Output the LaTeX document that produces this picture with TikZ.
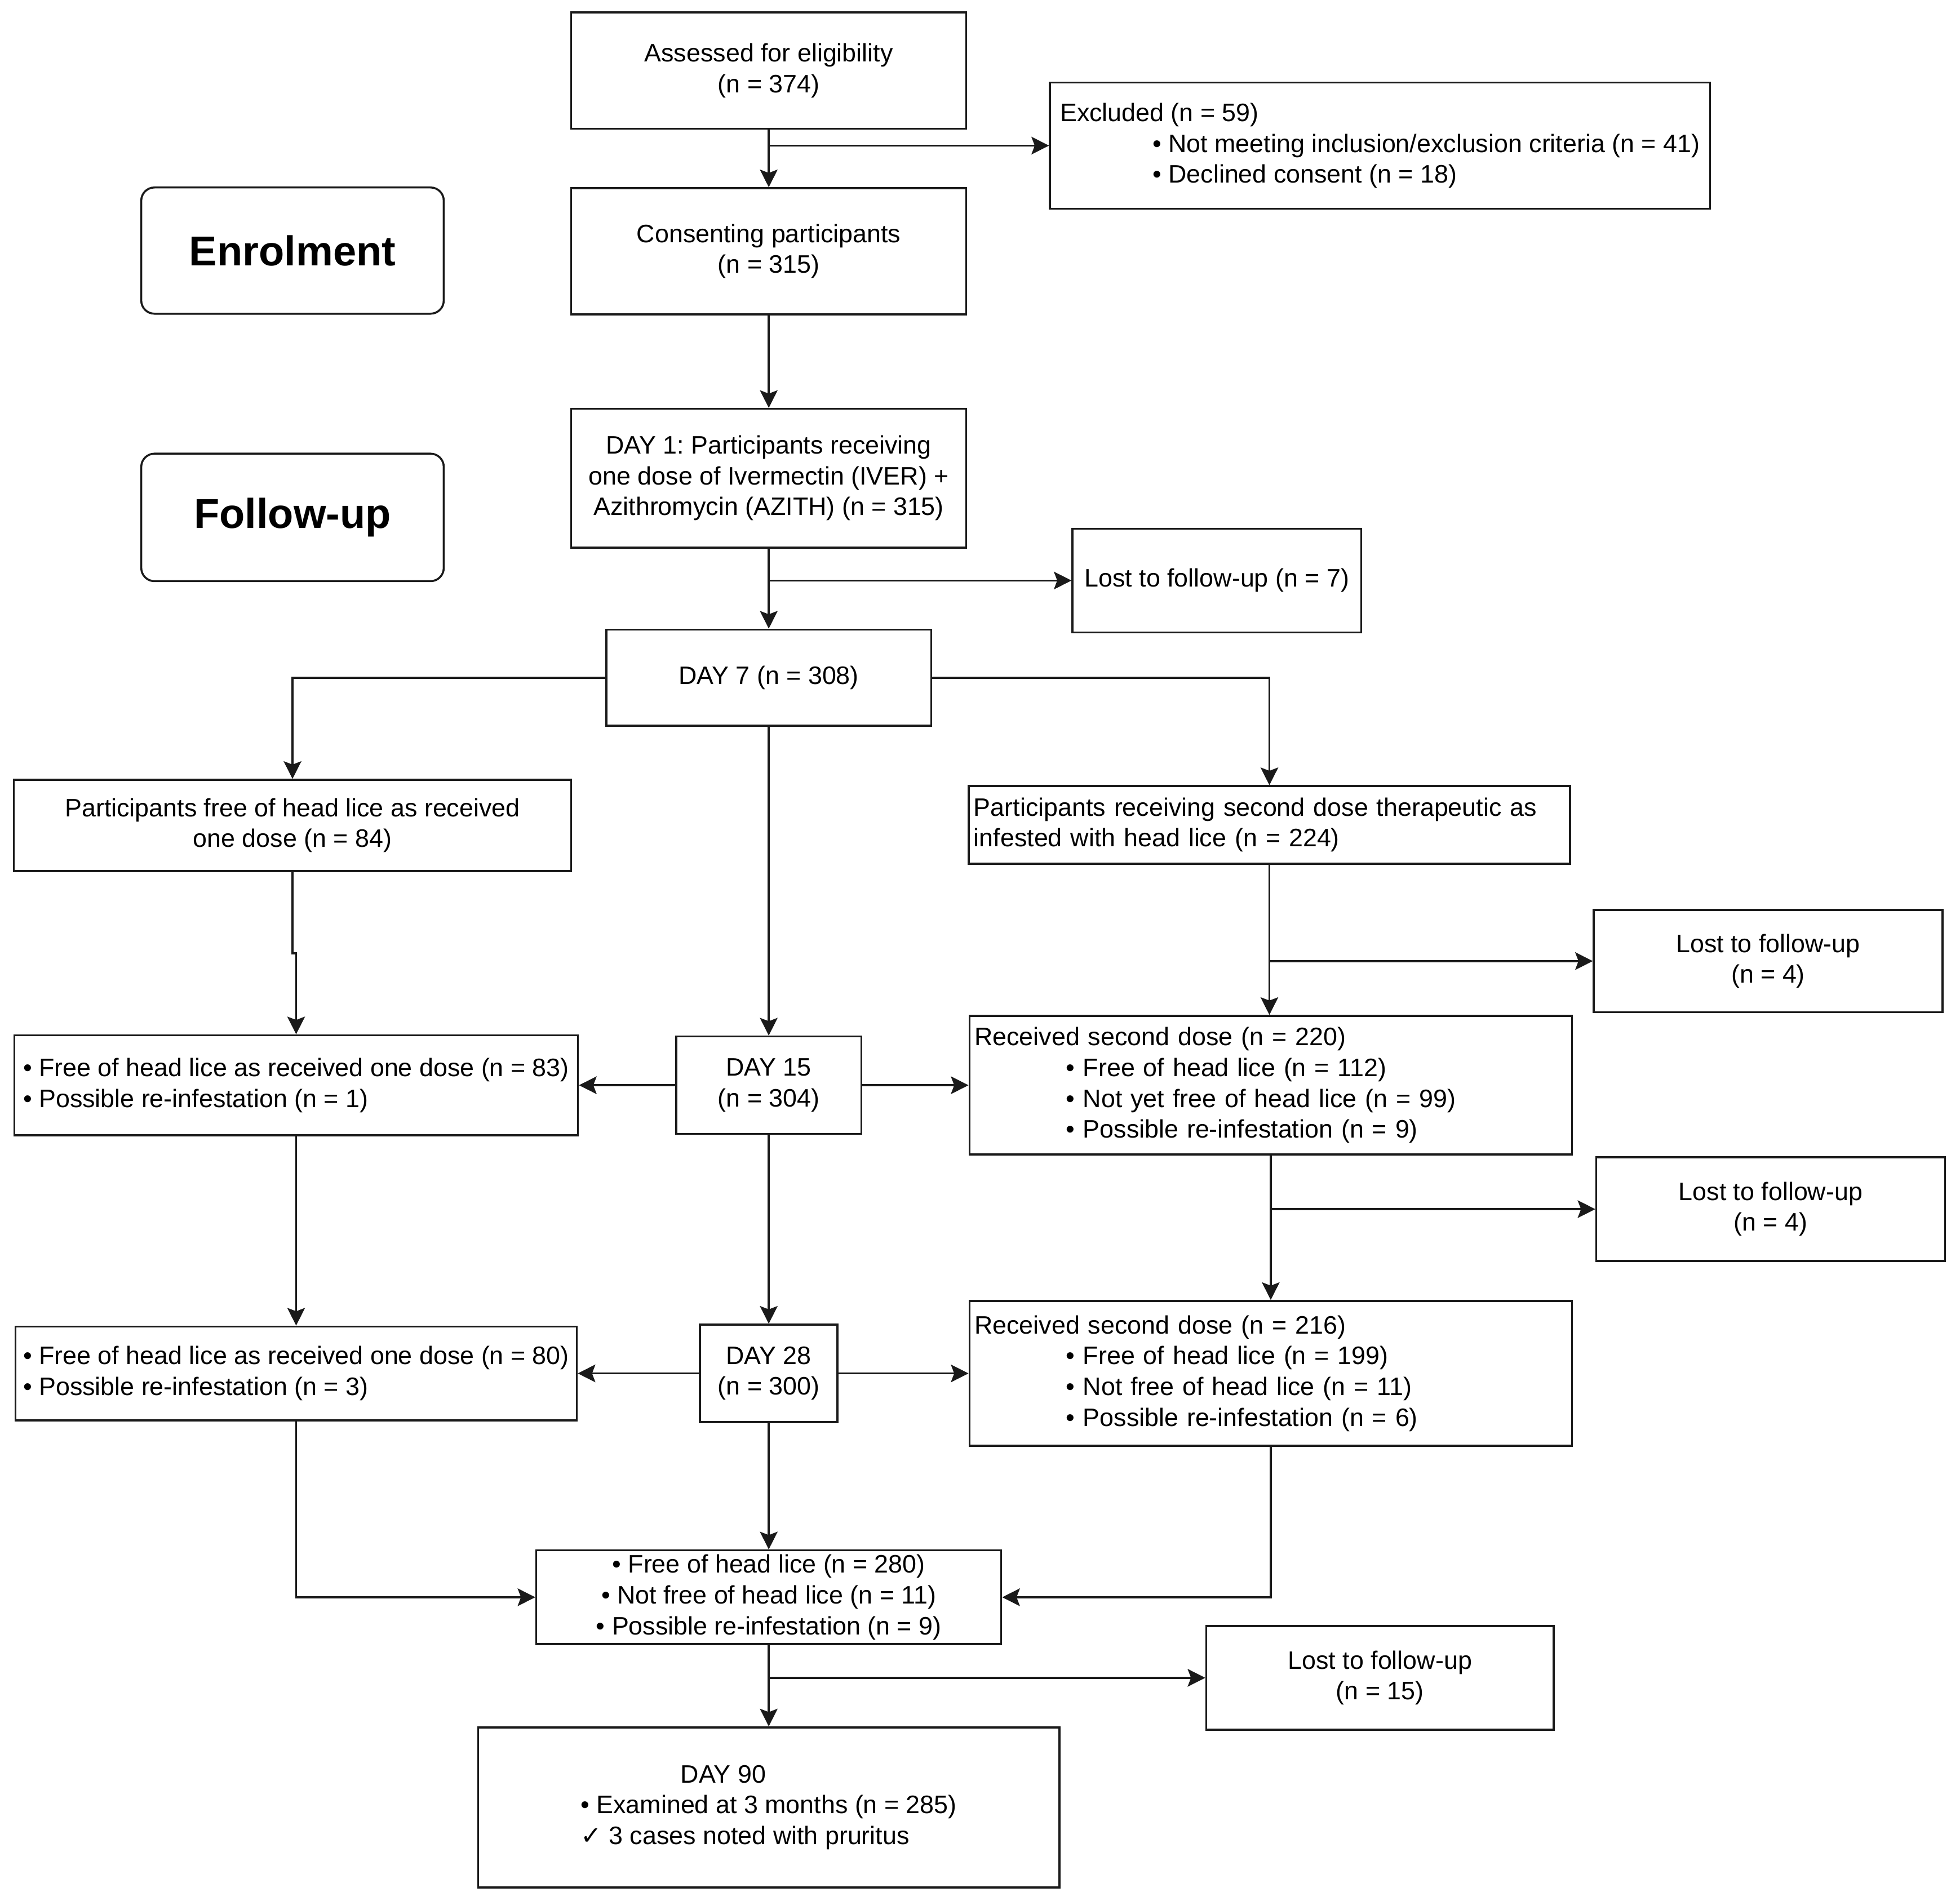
\documentclass[tikz,border=0pt]{standalone}
\usepackage{fontspec}
\setmainfont{Liberation Sans}
\newfontfamily\symfont{DejaVu Sans}
\usepackage{tikz}
\usetikzlibrary{arrows.meta,positioning,calc}
\definecolor{flowLine}{HTML}{1A1A1A}
\newcommand{\flowfont}{\fontsize{11.5}{14}\selectfont}
\newcommand{\stagefont}{\fontsize{19}{23}\selectfont\bfseries}
\frenchspacing
\tikzset{
    flowBox/.style={
        rectangle,
        draw=flowLine,
        line width=0.9pt,
        align=center,
        inner sep=2pt,
        font=\flowfont
    },
    % Variants
    sideBox/.style={flowBox, align=left, inner xsep=0.08cm},
    stageBox/.style={flowBox, rounded corners=6pt, font=\stagefont, minimum width=4.84cm, minimum height=2.02cm},
    % Arrows
    flowArrow/.style={-{Stealth[length=8pt, width=8pt, inset=1.5pt]}, line width=0.9pt, draw=flowLine}
}
\begin{document}
\begin{tikzpicture}[x=0.2mm, y=-0.2mm]
\path[use as bounding box, fill=white] (0,0) rectangle (1568,1521);

\node[stageBox] (enrol) at (234,200.5) {Enrolment};
\node[stageBox, minimum height=2.04cm] (followup) at (234,414) {Follow-up};

\node[flowBox, minimum width=6.32cm, minimum height=1.86cm] (assess) at (615,56.5) {Assessed for eligibility\\(n = 374)};
\node[flowBox, minimum width=6.32cm, minimum height=2.02cm, below=0.92cm of assess] (consent) {Consenting participants\\(n = 315)};
\node[flowBox, minimum width=6.32cm, minimum height=2.22cm, below=1.48cm of consent] (day1) {DAY 1: Participants receiving\\one dose of Ivermectin (IVER) +\\Azithromycin (AZITH) (n = 315)};
\node[flowBox, minimum width=5.2cm, minimum height=1.54cm, below=1.28cm of day1] (day7) {DAY 7 (n = 308)};
\node[flowBox, minimum width=2.96cm, minimum height=1.56cm, below=4.94cm of day7] (day15) {DAY 15\\(n = 304)};
\node[flowBox, minimum width=2.2cm, minimum height=1.56cm, below=3.02cm of day15] (day28) {DAY 28\\(n = 300)};
\node[flowBox, minimum width=7.44cm, minimum height=1.46cm, below=2.02cm of day28] (summ) {• Free of head lice (n = 280)\\• Not free of head lice (n = 11)\\• Possible re-infestation (n = 9)};
\node[flowBox, align=left, minimum width=9.3cm, minimum height=2.56cm, below=1.3cm of summ] (day90) {\hspace*{1.6cm}DAY 90\\• Examined at 3 months (n = 285)\\{\symfont ✓} 3 cases noted with pruritus};

\node[sideBox, minimum width=10.56cm, minimum height=2.02cm] (excl) at (1104,116.5) {Excluded (n = 59)\\\hspace*{1.48cm}• Not meeting inclusion/exclusion criteria (n = 41)\\\hspace*{1.48cm}• Declined consent (n = 18)};
\node[flowBox, minimum width=4.62cm, minimum height=1.66cm] (lost7) at (973.5,464.5) {Lost to follow-up (n = 7)};

\node[flowBox, minimum width=8.92cm, minimum height=1.46cm] (free84) at (234,660.5) {Participants free of head lice as received\\one dose (n = 84)};
\node[sideBox, text width=9.46cm, minimum height=1.24cm] (second224) at (1015.5,660) {Participants receiving second dose therapeutic as\\infested with head lice (n = 224)};
\node[flowBox, minimum width=5.58cm, minimum height=1.64cm] (lost4a) at (1414.5,769) {Lost to follow-up\\(n = 4)};

\node[sideBox, minimum width=9.02cm, minimum height=1.6cm, left=1.54cm of day15] (free83) {• Free of head lice as received one dose (n = 83)\\• Possible re-infestation (n = 1)};
\node[sideBox, text width=9.48cm, minimum height=2.22cm, right=1.7cm of day15] (rec220) {Received second dose (n = 220)\\\hspace*{1.46cm}• Free of head lice (n = 112)\\\hspace*{1.46cm}• Not yet free of head lice (n = 99)\\\hspace*{1.46cm}• Possible re-infestation (n = 9)};
\node[flowBox, minimum width=5.58cm, minimum height=1.66cm] (lost4b) at (1416.5,967.5) {Lost to follow-up\\(n = 4)};

\node[sideBox, minimum width=8.98cm, minimum height=1.5cm, left=1.94cm of day28] (free80) {• Free of head lice as received one dose (n = 80)\\• Possible re-infestation (n = 3)};
\node[sideBox, text width=9.48cm, minimum height=2.32cm, right=2.08cm of day28] (rec216) {Received second dose (n = 216)\\\hspace*{1.46cm}• Free of head lice (n = 199)\\\hspace*{1.46cm}• Not free of head lice (n = 11)\\\hspace*{1.46cm}• Possible re-infestation (n = 6)};
\node[flowBox, minimum width=5.56cm, minimum height=1.66cm] (lost15) at (1104,1342.5) {Lost to follow-up\\(n = 15)};

\draw[flowArrow] (assess) -- (consent);
\draw[flowArrow] (assess.south |- excl.west) -- (excl.west);
\draw[flowArrow] (consent) -- (day1);
\draw[flowArrow] (day1) -- (day7);
\draw[flowArrow] (day1.south |- lost7.west) -- (lost7.west);
\draw[flowArrow] (day7.west) -| (free84.north);
\draw[flowArrow] (day7.east) -| (second224.north);
\draw[flowArrow] (day7) -- (day15);
\draw[flowArrow] (free84.south) -- ++(0,65) -| (free83.north);
\draw[flowArrow] (second224.south) -- (second224.south |- rec220.north);
\draw[flowArrow] (second224.south |- lost4a.west) -- (lost4a.west);
\draw[flowArrow] (day15) -- (free83);
\draw[flowArrow] (day15) -- (rec220);
\draw[flowArrow] (free83) -- (free80);
\draw[flowArrow] (day15) -- (day28);
\draw[flowArrow] (rec220) -- (rec216);
\draw[flowArrow] (rec220.south |- lost4b.west) -- (lost4b.west);
\draw[flowArrow] (day28) -- (free80);
\draw[flowArrow] (day28) -- (rec216);
\draw[flowArrow] (free80.south) |- (summ.west);
\draw[flowArrow] (rec216.south) |- (summ.east);
\draw[flowArrow] (day28) -- (summ);
\draw[flowArrow] (summ) -- (day90);
\draw[flowArrow] (summ.south |- lost15.west) -- (lost15.west);
\end{tikzpicture}
\end{document}
